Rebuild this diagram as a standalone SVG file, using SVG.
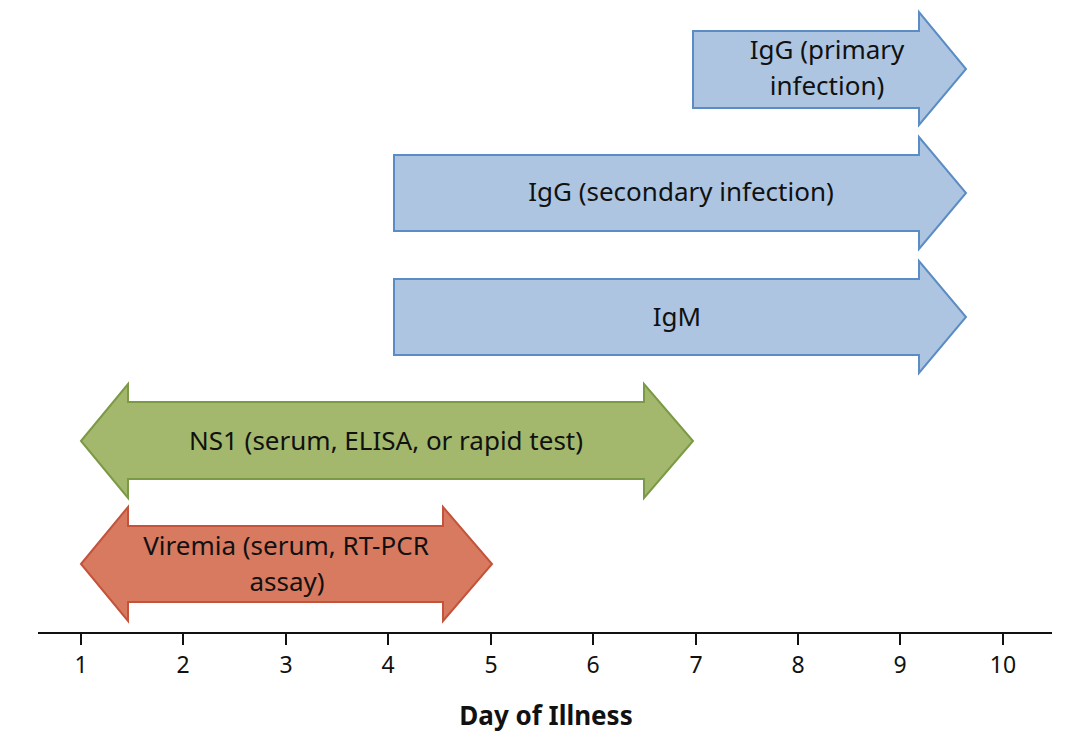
<svg xmlns="http://www.w3.org/2000/svg" width="1077" height="751" viewBox="0 0 1077 751">
<style>
.blue{fill:#adc5e1;stroke:#5b8cc4;stroke-width:2}
.green{fill:#a3b86c;stroke:#7b9a46;stroke-width:2}
.red{fill:#d77a60;stroke:#c4533b;stroke-width:2}
text{font-family:"Noto Sans","Open Sans",sans-serif;fill:#111}
.lbl{font-size:26px;text-anchor:middle}
.tick{font-size:23px;text-anchor:middle}
.axis{stroke:#111;stroke-width:2}
</style>
<rect width="1077" height="751" fill="#fff"/>
<g id="igg-primary">
<polygon class="blue" points="693,31 919,31 919,12 966,69 919,125 919,108 693,108"/>
<text class="lbl" x="827" y="59">IgG (primary</text>
<text class="lbl" x="827" y="95">infection)</text>
</g>
<g id="igg-secondary">
<polygon class="blue" points="394,155 919,155 919,137 966,193 919,249 919,231 394,231"/>
<text class="lbl" x="681" y="201">IgG (secondary infection)</text>
</g>
<g id="igm">
<polygon class="blue" points="394,279 919,279 919,261 966,317 919,373 919,355 394,355"/>
<text class="lbl" x="677" y="326">IgM</text>
</g>
<g id="ns1">
<polygon class="green" points="81,441 128,384 128,402 644,402 644,384 693,441 644,498 644,479 128,479 128,498"/>
<text class="lbl" x="386" y="450">NS1 (serum, ELISA, or rapid test)</text>
</g>
<g id="viremia">
<polygon class="red" points="81,564 128,507 128,526 443,526 443,507 492,564 443,621 443,602 128,602 128,621"/>
<text class="lbl" x="286" y="555">Viremia (serum, RT-PCR</text>
<text class="lbl" x="287" y="591">assay)</text>
</g>
<g id="axis">
<line class="axis" x1="38" y1="633" x2="1052" y2="633"/>
<g class="axis">
<line x1="81" y1="633" x2="81" y2="645"/>
<line x1="183" y1="633" x2="183" y2="645"/>
<line x1="286" y1="633" x2="286" y2="645"/>
<line x1="388" y1="633" x2="388" y2="645"/>
<line x1="491" y1="633" x2="491" y2="645"/>
<line x1="593" y1="633" x2="593" y2="645"/>
<line x1="696" y1="633" x2="696" y2="645"/>
<line x1="798" y1="633" x2="798" y2="645"/>
<line x1="900" y1="633" x2="900" y2="645"/>
<line x1="1003" y1="633" x2="1003" y2="645"/>
</g>
<text class="tick" x="81" y="673">1</text>
<text class="tick" x="183" y="673">2</text>
<text class="tick" x="286" y="673">3</text>
<text class="tick" x="388" y="673">4</text>
<text class="tick" x="491" y="673">5</text>
<text class="tick" x="593" y="673">6</text>
<text class="tick" x="696" y="673">7</text>
<text class="tick" x="798" y="673">8</text>
<text class="tick" x="900" y="673">9</text>
<text class="tick" x="1003" y="673">10</text>
<text x="546" y="725" style="font-size:26px;font-weight:bold;text-anchor:middle">Day of Illness</text>
</g>
</svg>
